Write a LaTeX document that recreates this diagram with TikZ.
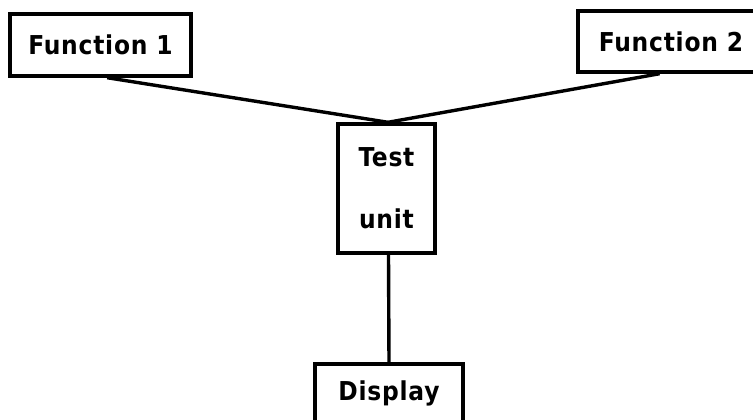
\documentclass[tikz,border=0pt]{standalone}
\usepackage{fontspec}
\setmainfont{DejaVu Sans Condensed}[LetterSpace=3]
\usetikzlibrary{calc}
\begin{document}
\begin{tikzpicture}[x=1pt,y=-1pt,
  block/.style={draw, line width=3.4pt, inner sep=0pt, align=center,
                font=\fontsize{26}{31}\bfseries\selectfont},
  wire/.style={line width=3.4pt}]
\useasboundingbox (0,0) rectangle (753,420);
\clip (0,0) rectangle (753,420);
\fill[white] (0,0) rectangle (753,420);
% blocks
\node[block, minimum width=181pt, minimum height=62pt] (f1) at (100.5,45) {Function 1};
\node[block, minimum width=186pt, minimum height=61pt] (f2) at (671,41.5) {Function 2};
\node[block, minimum width=97pt, minimum height=129pt] (tu) at (386.5,188.5) {Test\\[31pt]unit};
\node[block, minimum width=148pt, minimum height=58pt] (disp) at (389,393) {Display};
% connectors
\draw[wire] ($(f1.south west)!0.536!(f1.south east)$) -- ([xshift=1.5pt]tu.north);
\draw[wire] ($(f2.south west)!0.44!(f2.south east)$) -- ([xshift=1.5pt]tu.north);
\draw[wire] ([xshift=2pt]tu.south) -- ([xshift=0pt]disp.north);
\end{tikzpicture}
\end{document}
